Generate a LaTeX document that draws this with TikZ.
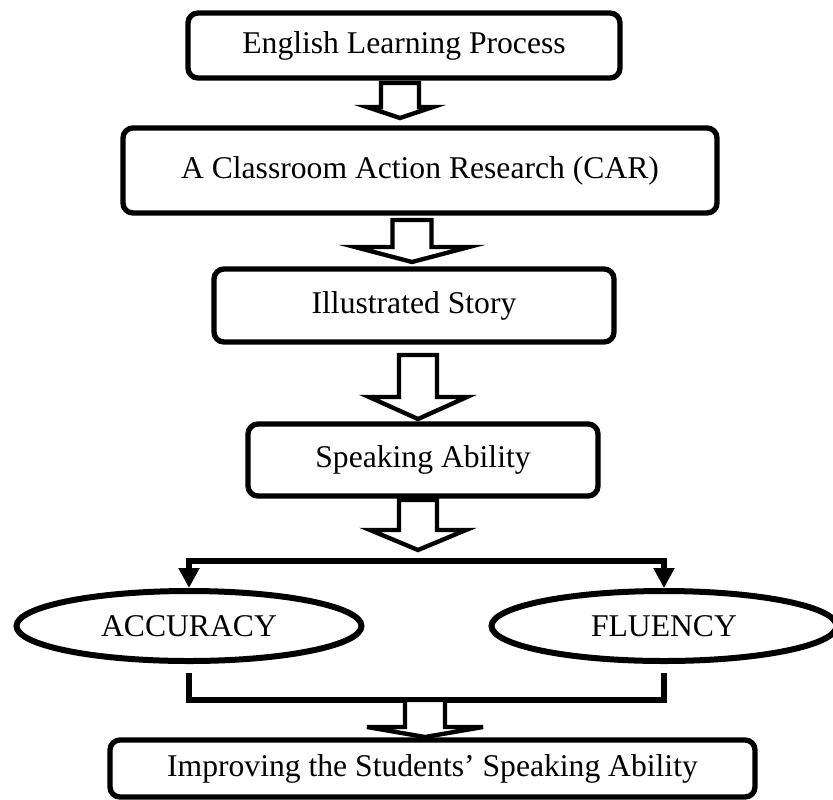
\documentclass[tikz,border=0pt]{standalone}
\usepackage{fontspec}
\setmainfont{Liberation Serif}
\usepackage{tikz}
\usetikzlibrary{arrows.meta, calc, shapes.geometric}
\tikzset{
  stagebox/.style={
    draw, rounded corners=3mm, line width=1.6mm,
    inner sep=0pt, align=center,
    font=\fontsize{27}{32}\selectfont
  },
  skill/.style={
    ellipse, draw, line width=1.8mm, inner sep=0pt,
    minimum width=103.5mm, minimum height=21mm,
    font=\fontsize{27}{32}\selectfont
  },
  hollowarr/.style={draw, line width=1.3mm, fill=white, line join=miter},
  linkline/.style={line width=1.8mm, line join=miter},
  linkarr/.style={linkline, -{Triangle[width=6mm, length=6mm]}}
}
\newcommand{\blockdown}[5]{%
  \draw[hollowarr] ($(#1)+(-#4,0)$) -- ($(#2)+(-#4,-#3)$) -- ($(#2)+(-#5,-#3)$)
    -- (#2) -- ($(#2)+(#5,-#3)$) -- ($(#2)+(#4,-#3)$) -- ($(#1)+(#4,0)$) -- cycle;}

\begin{document}
\begin{tikzpicture}[x=0.3mm, y=-0.3mm]

\useasboundingbox (0,0) rectangle (833,799);

\node[stagebox, minimum width=129.6mm, minimum height=19.5mm] (learn) at (404,45.5) {English Learning Process};
\node[stagebox, minimum width=178.2mm, minimum height=25.5mm] (car) at (420,170.5) {A Classroom Action Research (CAR)};
\node[stagebox, minimum width=120mm, minimum height=21.9mm] (story) at (414,305.5) {Illustrated Story};
\node[stagebox, minimum width=105mm, minimum height=21.6mm] (speak) at (423,460) {Speaking Ability};
\node[stagebox, minimum width=193.5mm, minimum height=17.1mm] (improve) at (432.5,768.5) {Improving the Students’ Speaking Ability};

\node[skill] (acc) at (189,626) {ACCURACY};
\node[skill] (flu) at (664,626) {FLUENCY};

\coordinate (a1top) at (400,83);
\coordinate (a1tip) at (400,118);
\coordinate (a2top) at (412,220);
\coordinate (a2tip) at (412,262);
\coordinate (a3top) at (418,355);
\coordinate (a3tip) at (418,419);
\coordinate (a4top) at (418,500);
\coordinate (a4tip) at (418,550);
\coordinate (fork) at (420,561);
\coordinate (merge) at (425,700);
\coordinate (a5tip) at (425,737);

\blockdown{a1top}{a1tip}{11}{19}{33}
\blockdown{a2top}{a2tip}{15}{19.5}{57}
\blockdown{a3top}{a3tip}{22}{19}{49}
\blockdown{a4top}{a4tip}{20}{19}{48}

\draw[linkarr] (fork) -| (acc.north);
\draw[linkarr] (fork) -| (flu.north);
\draw[linkline] ($(acc.south)+(0,9)$) |- (merge) -| ($(flu.south)+(0,9)$);

\blockdown{merge}{a5tip}{10}{20}{58}

\end{tikzpicture}
\end{document}
